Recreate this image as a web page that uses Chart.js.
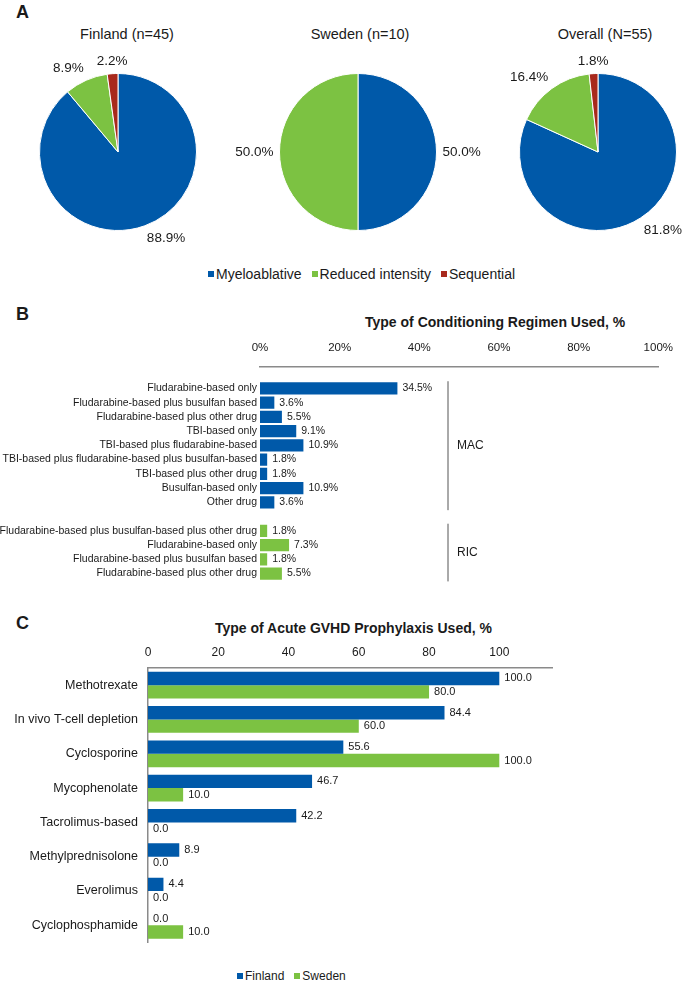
<!DOCTYPE html>
<html>
<head>
<meta charset="utf-8">
<script src="https://cdn.jsdelivr.net/npm/chart.js@4.4.1/dist/chart.umd.min.js"></script>
<style>
  html, body { margin: 0; padding: 0; background: #fff; }
  body { width: 685px; height: 982px; position: relative; overflow: hidden;
         font-family: "Liberation Sans", Arial, sans-serif; color: #1a1a1a; }
  canvas { position: absolute; }
  .txt { position: absolute; line-height: 1; white-space: nowrap; }
  .panel { font-weight: bold; font-size: 18px; }
  .ptitle { font-size: 14.5px; width: 200px; text-align: center; }
  .btitle { font-weight: bold; font-size: 14px; }
  .legend { position: absolute; display: flex; align-items: center; white-space: nowrap; }
  .legend span.box { display: inline-block; width: 6px; height: 6px; margin-right: 2px; }
  .legend span.lbl { margin-right: 10px; }
</style>
</head>
<body>
<div class="txt panel" style="left:16px;top:3px">A</div>
<div class="txt panel" style="left:16px;top:305px">B</div>
<div class="txt panel" style="left:16px;top:614px">C</div>

<div id="pieTitles"></div>
<div id="legendA" class="legend" style="left:208px;top:266px;font-size:14px;height:16px"></div>

<div class="txt btitle" style="left:365px;top:315px">Type of Conditioning Regimen Used, %</div>
<div class="txt btitle" style="left:215px;top:621px">Type of Acute GVHD Prophylaxis Used, %</div>

<div id="legendC" class="legend" style="left:237px;top:969px;font-size:12px;height:14px"></div>

<canvas id="pieFinland" width="236" height="220" style="left:0;top:40px"></canvas>
<canvas id="pieSweden" width="316" height="220" style="left:200px;top:40px"></canvas>
<canvas id="pieOverall" width="195" height="220" style="left:490px;top:40px"></canvas>
<canvas id="regimenChart" width="685" height="260" style="left:0;top:330px"></canvas>
<canvas id="gvhdChart" width="685" height="330" style="left:0;top:630px"></canvas>

<script>
// ---- data ----
const pieCategories = ['Myeloablative', 'Reduced intensity', 'Sequential'];
const pieTitles = ['Finland (n=45)', 'Sweden (n=10)', 'Overall (N=55)'];
const finlandSplit = [88.9, 8.9, 2.2];
const swedenSplit = [50.0, 50.0, 0];
const overallSplit = [81.8, 16.4, 1.8];

const macRegimens = [
  'Fludarabine-based only',
  'Fludarabine-based plus busulfan based',
  'Fludarabine-based plus other drug',
  'TBI-based only',
  'TBI-based plus fludarabine-based',
  'TBI-based plus fludarabine-based plus busulfan-based',
  'TBI-based plus other drug',
  'Busulfan-based only',
  'Other drug'
];
const macValues = [34.5, 3.6, 5.5, 9.1, 10.9, 1.8, 1.8, 10.9, 3.6];
const ricRegimens = [
  'Fludarabine-based plus busulfan-based plus other drug',
  'Fludarabine-based only',
  'Fludarabine-based plus busulfan based',
  'Fludarabine-based plus other drug'
];
const ricValues = [1.8, 7.3, 1.8, 5.5];

const gvhdDrugs = [
  'Methotrexate', 'In vivo T-cell depletion', 'Cyclosporine', 'Mycophenolate',
  'Tacrolimus-based', 'Methylprednisolone', 'Everolimus', 'Cyclophosphamide'
];
const finlandGvhd = [100.0, 84.4, 55.6, 46.7, 42.2, 8.9, 4.4, 0.0];
const swedenGvhd = [80.0, 60.0, 100.0, 10.0, 0.0, 0.0, 0.0, 10.0];
const countries = ['Finland', 'Sweden'];

// ---- style ----
const BLUE = '#0059a9';
const GREEN = '#7cc242';
const RED = '#a8291c';
const TEXT = '#1a1a1a';
const AXIS = '#8a8a8a';
const FONT = '"Liberation Sans", Arial, sans-serif';
const pieColors = [BLUE, GREEN, RED];

Chart.defaults.font.family = FONT;
Chart.defaults.color = TEXT;
Chart.defaults.animation = false;

// labels outside the pie slices
const pieLabels = {
  id: 'pieLabels',
  afterDatasetsDraw(chart) {
    const ctx = chart.ctx;
    const values = chart.data.datasets[0].data;
    ctx.save();
    ctx.font = '13.5px ' + FONT;
    ctx.fillStyle = TEXT;
    chart.getDatasetMeta(0).data.forEach((arc, i) => {
      if (!values[i]) return;
      const p = arc.getProps(['x', 'y', 'startAngle', 'endAngle', 'outerRadius'], true);
      const mid = (p.startAngle + p.endAngle) / 2;
      const dx = Math.cos(mid), dy = Math.sin(mid);
      const r = p.outerRadius + 6;
      ctx.textAlign = dx > 0.3 ? 'left' : dx < -0.3 ? 'right' : 'center';
      ctx.textBaseline = dy > 0.3 ? 'top' : dy < -0.3 ? 'bottom' : 'middle';
      ctx.fillText(values[i].toFixed(1) + '%', p.x + dx * r, p.y + dy * r);
    });
    ctx.restore();
  }
};

// value labels at the end of each bar
const barValues = {
  id: 'barValues',
  afterDatasetsDraw(chart, args, opts) {
    const ctx = chart.ctx;
    ctx.save();
    ctx.font = opts.font;
    ctx.fillStyle = TEXT;
    ctx.textAlign = 'left';
    ctx.textBaseline = 'middle';
    chart.data.datasets.forEach((ds, di) => {
      chart.getDatasetMeta(di).data.forEach((bar, i) => {
        const v = ds.data[i];
        if (v === null || v === undefined) return;
        ctx.fillText(opts.format(v), bar.x + 5, bar.y);
      });
    });
    ctx.restore();
  }
};

// MAC / RIC brackets
const groupBrackets = {
  id: 'groupBrackets',
  afterDraw(chart, args, opts) {
    const ctx = chart.ctx;
    const y = chart.scales.y;
    const step = y.getPixelForValue(1) - y.getPixelForValue(0);
    const x = chart.chartArea.left + opts.offset;
    ctx.save();
    ctx.strokeStyle = '#555';
    ctx.lineWidth = 1;
    ctx.font = '12px ' + FONT;
    ctx.fillStyle = TEXT;
    ctx.textAlign = 'left';
    ctx.textBaseline = 'middle';
    opts.groups.forEach(g => {
      const top = y.getPixelForValue(g.from) - step * 0.5;
      const bottom = y.getPixelForValue(g.to) + step * 0.55;
      ctx.beginPath();
      ctx.moveTo(x, top);
      ctx.lineTo(x, bottom);
      ctx.stroke();
      ctx.fillText(g.label, x + 9, (top + bottom) / 2);
    });
    ctx.restore();
  }
};

// ---- panel A ----
const pieTitleX = [127, 360, 605];
pieTitles.forEach((t, i) => {
  const d = document.createElement('div');
  d.className = 'txt ptitle';
  d.style.left = (pieTitleX[i] - 100) + 'px';
  d.style.top = '27px';
  d.textContent = t;
  document.getElementById('pieTitles').appendChild(d);
});

function buildLegend(id, names, colors) {
  const el = document.getElementById(id);
  names.forEach((n, i) => {
    const b = document.createElement('span');
    b.className = 'box';
    b.style.background = colors[i];
    const l = document.createElement('span');
    l.className = 'lbl';
    l.textContent = n;
    el.appendChild(b);
    el.appendChild(l);
  });
}
buildLegend('legendA', pieCategories, pieColors);
buildLegend('legendC', countries, [BLUE, GREEN]);

function makePie(id, values, padding) {
  return new Chart(document.getElementById(id), {
    type: 'pie',
    data: {
      labels: pieCategories,
      datasets: [{
        data: values,
        backgroundColor: pieColors,
        borderColor: '#ffffff',
        borderWidth: 1
      }]
    },
    options: {
      responsive: false,
      layout: { padding: padding },
      plugins: { legend: { display: false }, tooltip: { enabled: false } }
    },
    plugins: [pieLabels]
  });
}
makePie('pieFinland', finlandSplit, { top: 33, bottom: 29, left: 0, right: 0 });
makePie('pieSweden', swedenSplit, { top: 33, bottom: 29, left: 0, right: 0 });
makePie('pieOverall', overallSplit, { top: 33, bottom: 29, left: 21, right: 0 });

// ---- panel B ----
const regimenLabels = [''].concat(macRegimens, [''], ricRegimens);
const regimenData = [null].concat(macValues, [null], ricValues);
const regimenColors = [BLUE].concat(macValues.map(() => BLUE), [BLUE], ricValues.map(() => GREEN));

new Chart(document.getElementById('regimenChart'), {
  type: 'bar',
  data: {
    labels: regimenLabels,
    datasets: [{
      data: regimenData,
      backgroundColor: regimenColors,
      barPercentage: 0.85,
      categoryPercentage: 1
    }]
  },
  options: {
    indexAxis: 'y',
    responsive: false,
    layout: { padding: { top: 0, bottom: 5, left: 0, right: 21 } },
    scales: {
      x: {
        position: 'top',
        min: 0, max: 100,
        grid: { display: false, drawTicks: false },
        border: { display: true, color: AXIS, width: 1.5 },
        ticks: { stepSize: 20, padding: 12, font: { size: 11.5 }, color: TEXT,
                 callback: v => v + '%' },
        afterFit: s => { s.height = 37; }
      },
      y: {
        grid: { display: false, drawTicks: false },
        border: { display: false },
        ticks: { autoSkip: false, padding: 3, font: { size: 10.5 }, color: TEXT },
        afterFit: s => { s.width = 260; }
      }
    },
    plugins: {
      legend: { display: false },
      tooltip: { enabled: false },
      barValues: { font: '10.5px ' + FONT, format: v => v.toFixed(1) + '%' },
      groupBrackets: {
        offset: 188,
        groups: [
          { label: 'MAC', from: 1, to: macRegimens.length },
          { label: 'RIC', from: macRegimens.length + 2, to: macRegimens.length + 1 + ricRegimens.length }
        ]
      }
    }
  },
  plugins: [barValues, groupBrackets]
});

// ---- panel C ----
new Chart(document.getElementById('gvhdChart'), {
  type: 'bar',
  data: {
    labels: gvhdDrugs,
    datasets: [
      { label: countries[0], data: finlandGvhd, backgroundColor: BLUE,
        barPercentage: 1, categoryPercentage: 0.78 },
      { label: countries[1], data: swedenGvhd, backgroundColor: GREEN,
        barPercentage: 1, categoryPercentage: 0.78 }
    ]
  },
  options: {
    indexAxis: 'y',
    responsive: false,
    layout: { padding: { top: 0, bottom: 3, left: 0, right: 133 } },
    scales: {
      x: {
        position: 'top',
        min: 0, max: 115,
        grid: { display: false, drawTicks: false },
        border: { display: true, color: AXIS, width: 1.5 },
        ticks: { stepSize: 20, includeBounds: false, padding: 8, font: { size: 12 }, color: TEXT },
        afterBuildTicks: s => { s.ticks = s.ticks.filter(t => t.value <= 100); },
        afterFit: s => { s.height = 38; }
      },
      y: {
        grid: { display: false, drawTicks: false },
        border: { display: true, color: AXIS, width: 1.5 },
        ticks: { autoSkip: false, padding: 10, font: { size: 12.5 }, color: TEXT },
        afterFit: s => { s.width = 148; }
      }
    },
    plugins: {
      legend: { display: false },
      tooltip: { enabled: false },
      barValues: { font: '11px ' + FONT, format: v => v.toFixed(1) }
    }
  },
  plugins: [barValues]
});
</script>
</body>
</html>
